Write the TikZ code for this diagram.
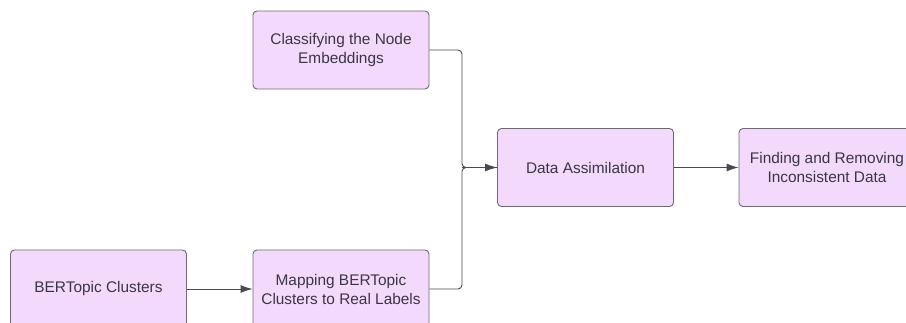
\documentclass[tikz,border=0pt]{standalone}
\usepackage{fontspec}
\setmainfont{Liberation Sans}
\usetikzlibrary{arrows.meta}
\definecolor{boxfill}{HTML}{F3D9FB}
\definecolor{boxline}{HTML}{6E6A72}
\definecolor{txt}{HTML}{3A3645}
\definecolor{conn}{HTML}{4A4850}
\tikzset{
  procbox/.style={draw=boxline, fill=boxfill, line width=0.9pt, rounded corners=4pt,
    minimum width=176pt, minimum height=78pt, inner sep=2pt, align=center,
    text=txt, font=\fontsize{15.4}{19}\selectfont},
  conn/.style={draw=conn, line width=0.9pt, -{Latex[length=12pt,width=8pt]}},
  merge/.style={draw=conn, line width=0.9pt, rounded corners=4pt}
}
\begin{document}
\begin{tikzpicture}[x=1pt,y=1pt]
\useasboundingbox (0,0) rectangle (906,-323);
\node[procbox] (A) at (341,-50) {Classifying the Node\\Embeddings};
\node[procbox] (B) at (98.5,-289) {BERTopic Clusters};
\node[procbox] (C) at (341,-289) {Mapping BERTopic\\Clusters to Real Labels};
\node[procbox] (D) at (585.5,-167.5) {Data Assimilation};
\node[procbox] (E) at (827,-167.5) {Finding and Removing\\Inconsistent Data};
\coordinate (J) at (462,-167.5);
\draw[merge] (A.east) -| (J) -- (D.west);
\draw[merge] (C.east) -| (J) -- (D.west);
\draw[conn] (J) -- (D.west);
\draw[conn] (B.east) -- (C.west);
\draw[conn] (D.east) -- (E.west);
\end{tikzpicture}
\end{document}
